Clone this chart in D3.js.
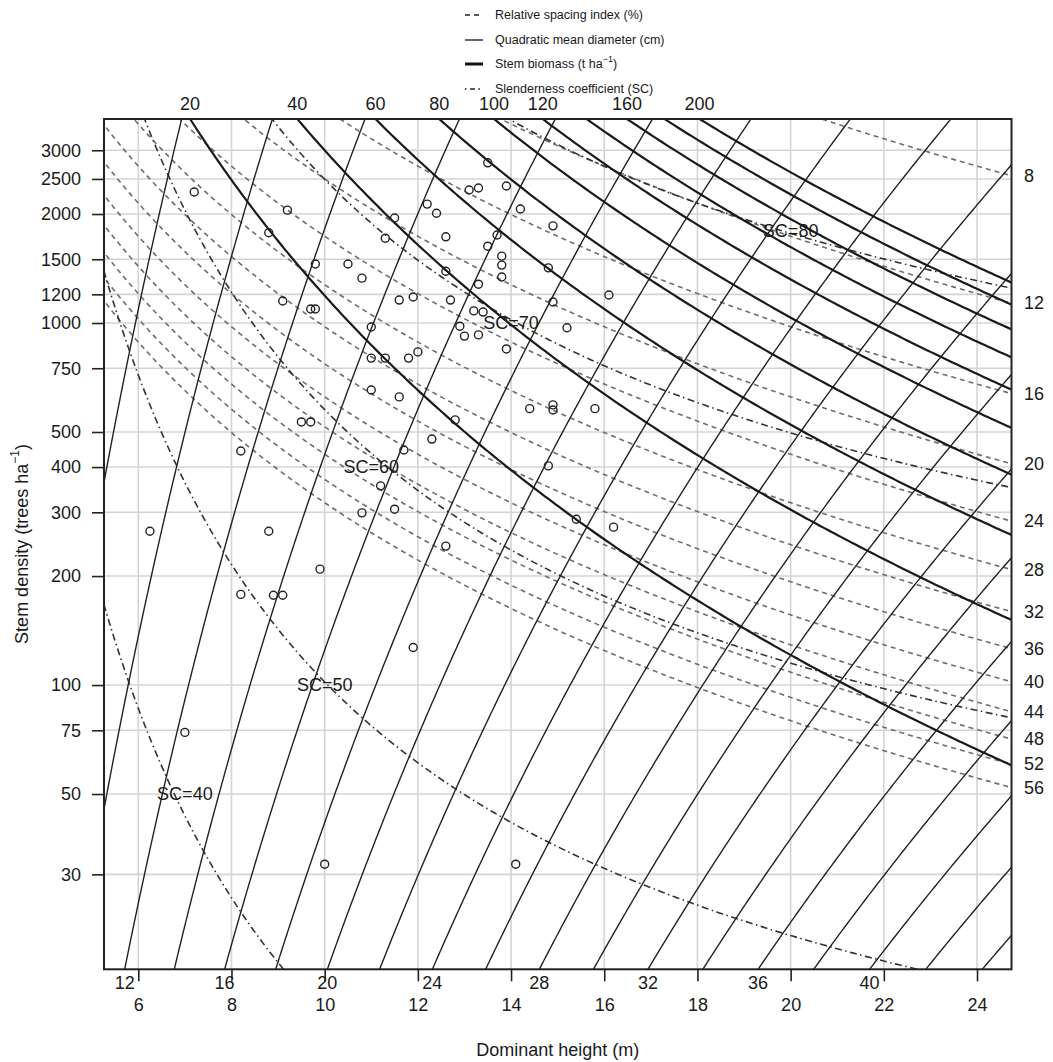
<!DOCTYPE html>
<html>
<head>
<meta charset="utf-8">
<script src="https://cdn.jsdelivr.net/npm/d3@7"></script>
<style>
  body { margin: 0; background: #ffffff; }
  text { font-family: "Liberation Sans", Arial, Helvetica, sans-serif; fill: #1a1a1a; }
</style>
</head>
<body>
<svg id="chart" width="1053" height="1062"></svg>
<script>
// ---------------- axis ticks ----------------
const heightTicks = [6, 8, 10, 12, 14, 16, 18, 20, 22, 24];
const densityTicks = [30, 50, 75, 100, 200, 300, 400, 500, 750, 1000, 1200, 1500, 2000, 2500, 3000];

// ---------------- isoline levels ----------------
const rsiLevels = [8, 12, 16, 20, 24, 28, 32, 36, 40, 44, 48, 52, 56];          // relative spacing index (%)
const dqLevels = [8, 10, 12, 14, 16, 18, 20, 22, 24, 26, 28, 30, 32, 34, 36, 38, 40, 42, 44]; // cm
const dqLabelled = [12, 16, 20, 24, 28, 32, 36, 40];
const biomassLevels = [20, 40, 60, 80, 100, 120, 140, 160, 180, 200];           // t ha-1
const biomassLabelled = [20, 40, 60, 80, 100, 120, 160, 200];
const scLevels = [40, 50, 60, 70, 80];
const scLabelH = [7, 10, 11, 14, 20];
const scLabelN = [50, 100, 400, 1000, 1800];

// ---------------- model coefficients ----------------
// quadratic mean diameter:  ln H = a0 + a1 ln Dq + a2 ln N
const dqCoef = [-1.347, 1.109, 0.11906];
// stem biomass:             ln W = b0 + b1 ln H + b2 ln N
const biomassCoef = [-8.0099, 2.473, 0.75];
// slenderness coefficient:  ln N = c0 + c1 ln SC + c2 ln H + c3 / H
const scCoef = [-33.994, 9.5, -0.48, 25.6];

// ---------------- observed plots ----------------
const obsHeight = [13.5, 7.2, 13.1, 13.3, 13.9, 12.2, 12.4, 14.2, 9.2, 11.5, 14.9, 8.8, 11.3, 12.6, 13.7,
  13.5, 13.8, 13.8, 9.8, 10.5, 14.8, 12.6, 10.8, 13.8, 13.3, 16.1, 11.9, 11.6, 12.7, 14.9, 9.1, 9.7, 9.8,
  13.2, 13.4, 11.0, 12.9, 15.2, 13.0, 13.3, 13.9, 12.0, 11.8, 11.0, 11.3, 11.0, 11.6, 14.4, 14.9, 14.9,
  15.8, 9.5, 9.7, 12.8, 12.3, 11.7, 8.2, 14.8, 11.2, 10.8, 11.5, 15.4, 16.2, 6.25, 8.8, 12.6, 9.9, 8.2,
  8.9, 9.1, 11.9, 7.0, 10.0, 14.1];
const obsDensity = [2770, 2300, 2330, 2360, 2390, 2130, 2010, 2065, 2050, 1950, 1855, 1775, 1715, 1730, 1750,
  1630, 1530, 1445, 1455, 1455, 1420, 1390, 1330, 1340, 1280, 1195, 1180, 1157, 1157, 1143, 1150, 1093, 1093,
  1080, 1072, 975, 980, 970, 920, 927, 848, 832, 800, 800, 800, 653, 625, 580, 594, 575, 580, 533, 533, 540,
  478, 446, 443, 403, 355, 299, 306, 287, 273, 266, 266, 242, 209, 178, 177, 177, 127, 74, 32, 32];

// ---------------- layout ----------------
const plot = { left: 104, right: 1011.5, top: 119, bottom: 969.3 };
const hDomain = [5.264, 24.74];
const nDomain = [16.4, 3660];

const x = d3.scaleLinear().domain(hDomain).range([plot.left, plot.right]);
const y = d3.scaleLog().domain(nDomain).range([plot.bottom, plot.top]);

const svg = d3.select("#chart");
svg.append("rect").attr("width", 1053).attr("height", 1062).attr("fill", "#fff");

svg.append("defs").append("clipPath").attr("id", "plotClip")
  .append("rect")
  .attr("x", plot.left).attr("y", plot.top)
  .attr("width", plot.right - plot.left).attr("height", plot.bottom - plot.top);

// ---------------- grid ----------------
const grid = svg.append("g").attr("stroke", "#d4d4d4").attr("stroke-width", 1.6);
heightTicks.forEach(h => grid.append("line")
  .attr("x1", x(h)).attr("x2", x(h)).attr("y1", plot.top).attr("y2", plot.bottom));
densityTicks.forEach(n => grid.append("line")
  .attr("x1", plot.left).attr("x2", plot.right).attr("y1", y(n)).attr("y2", y(n)));

// sampling grids used to trace the isolines across (and past) the plot region
const hSamples = d3.range(0, 301).map(i => 4.0 + i * (27 - 4.0) / 300);
const nSamples = d3.range(0, 241).map(i => Math.exp(Math.log(8) + i * (Math.log(6000) - Math.log(8)) / 240));

const line = d3.line().x(d => x(d[0])).y(d => y(d[1]));
const curves = svg.append("g").attr("clip-path", "url(#plotClip)").attr("fill", "none");

// relative spacing index: RSI = 100 * sqrt(10000 / N) / H
const rsiN = (rsi, h) => 10000 / Math.pow(rsi * h / 100, 2);
curves.append("g").attr("stroke", "#6e6e6e").attr("stroke-width", 1.6).attr("stroke-dasharray", "5,4")
  .selectAll("path").data(rsiLevels).join("path")
  .attr("d", r => line(hSamples.map(h => [h, rsiN(r, h)])));

// slenderness coefficient isolines
const scN = (sc, h) => Math.exp(scCoef[0] + scCoef[1] * Math.log(sc) + scCoef[2] * Math.log(h) + scCoef[3] / h);
curves.append("g").attr("stroke", "#333").attr("stroke-width", 1.6).attr("stroke-dasharray", "1.5,3.5,7,3.5")
  .selectAll("path").data(scLevels).join("path")
  .attr("d", s => line(hSamples.map(h => [h, Math.min(1e5, scN(s, h))])));

// quadratic mean diameter isolines
const dqH = (dq, n) => Math.exp(dqCoef[0] + dqCoef[1] * Math.log(dq) + dqCoef[2] * Math.log(n));
curves.append("g").attr("stroke", "#222").attr("stroke-width", 1.4)
  .selectAll("path").data(dqLevels).join("path")
  .attr("d", d => line(nSamples.map(n => [dqH(d, n), n])));

// stem biomass isolines
const biomassN = (w, h) => Math.exp((Math.log(w) - biomassCoef[0] - biomassCoef[1] * Math.log(h)) / biomassCoef[2]);
curves.append("g").attr("stroke", "#1a1a1a").attr("stroke-width", 2.2)
  .selectAll("path").data(biomassLevels).join("path")
  .attr("d", w => line(hSamples.map(h => [h, biomassN(w, h)])));

// observations
svg.append("g").attr("fill", "none").attr("stroke", "#222").attr("stroke-width", 1.4)
  .selectAll("circle").data(obsHeight.map((h, i) => [h, obsDensity[i]])).join("circle")
  .attr("cx", d => x(d[0])).attr("cy", d => y(d[1])).attr("r", 4);

// SC labels
svg.append("g").selectAll("text").data(scLevels).join("text")
  .attr("x", (s, i) => x(scLabelH[i])).attr("y", (s, i) => y(scLabelN[i]))
  .attr("text-anchor", "middle").attr("dominant-baseline", "central")
  .attr("font-size", 18).text(s => "SC=" + s);

// frame
svg.append("rect").attr("x", plot.left).attr("y", plot.top)
  .attr("width", plot.right - plot.left).attr("height", plot.bottom - plot.top)
  .attr("fill", "none").attr("stroke", "#222").attr("stroke-width", 2);

// ---------------- axes ----------------
const yAxis = svg.append("g").attr("transform", `translate(${plot.left},0)`)
  .call(d3.axisLeft(y).tickValues(densityTicks).tickFormat(d3.format("d")).tickSize(12).tickPadding(11));
yAxis.select(".domain").remove();
yAxis.selectAll(".tick line").attr("stroke", "#222").attr("stroke-width", 1.6);
yAxis.selectAll(".tick text").attr("font-size", 18).attr("fill", "#1a1a1a")
  .style("font-family", '"Liberation Sans", Arial, sans-serif');

const xAxis = svg.append("g").attr("transform", `translate(0,${plot.bottom})`)
  .call(d3.axisBottom(x).tickValues(heightTicks).tickFormat(d3.format("d")).tickSize(12).tickPadding(17));
xAxis.select(".domain").remove();
xAxis.selectAll(".tick line").attr("stroke", "#222").attr("stroke-width", 1.6);
xAxis.selectAll(".tick text").attr("font-size", 18).attr("fill", "#1a1a1a")
  .style("font-family", '"Liberation Sans", Arial, sans-serif');

// Dq labels where each labelled diameter line meets the lower edge
svg.append("g").selectAll("text").data(dqLabelled).join("text")
  .attr("x", d => x(dqH(d, nDomain[0]))).attr("y", 983)
  .attr("text-anchor", "middle").attr("dominant-baseline", "central")
  .attr("font-size", 18).text(d => d);

// biomass labels where each labelled line meets the upper edge
const biomassTopH = w => Math.exp((Math.log(w) - biomassCoef[0] - biomassCoef[2] * Math.log(nDomain[1])) / biomassCoef[1]);
svg.append("g").selectAll("text").data(biomassLabelled).join("text")
  .attr("x", w => x(biomassTopH(w))).attr("y", 104)
  .attr("text-anchor", "middle").attr("dominant-baseline", "central")
  .attr("font-size", 18).text(w => w);

// RSI labels where each line meets the right edge
svg.append("g").selectAll("text").data(rsiLevels).join("text")
  .attr("x", 1024).attr("y", r => y(rsiN(r, hDomain[1])))
  .attr("text-anchor", "start").attr("dominant-baseline", "central")
  .attr("font-size", 18).text(r => r);

// axis titles
svg.append("text").attr("x", (plot.left + plot.right) / 2).attr("y", 1050)
  .attr("text-anchor", "middle").attr("dominant-baseline", "central")
  .attr("font-size", 18).text("Dominant height (m)");

const yTitle = svg.append("text").attr("transform", "translate(22,544) rotate(-90)")
  .attr("text-anchor", "middle").attr("dominant-baseline", "central").attr("font-size", 18);
yTitle.append("tspan").text("Stem density (trees ha");
yTitle.append("tspan").attr("font-size", 12).attr("dy", -7).text("\u22121");
yTitle.append("tspan").attr("dy", 7).text(")");

// ---------------- legend ----------------
const legend = svg.append("g").attr("transform", "translate(465,0)");
const legendItems = [
  { label: "Relative spacing index (%)", y: 15, stroke: "#222", width: 1.6, dash: "5,4" },
  { label: "Quadratic mean diameter (cm)", y: 40, stroke: "#222", width: 1.4, dash: null },
  { label: "Stem biomass (t ha", sup: "\u22121", tail: ")", y: 64, stroke: "#111", width: 3, dash: null },
  { label: "Slenderness coefficient (SC)", y: 89, stroke: "#222", width: 1.6, dash: "1.5,3.5,5,3.5" }
];
legendItems.forEach(it => {
  legend.append("line").attr("x1", 0).attr("x2", 18).attr("y1", it.y).attr("y2", it.y)
    .attr("stroke", it.stroke).attr("stroke-width", it.width)
    .attr("stroke-dasharray", it.dash);
  const t = legend.append("text").attr("x", 30).attr("y", it.y)
    .attr("dominant-baseline", "central").attr("font-size", 12.5);
  t.append("tspan").text(it.label);
  if (it.sup) {
    t.append("tspan").attr("font-size", 9).attr("dy", -5).text(it.sup);
    t.append("tspan").attr("dy", 5).text(it.tail);
  }
});
</script>
</body>
</html>
